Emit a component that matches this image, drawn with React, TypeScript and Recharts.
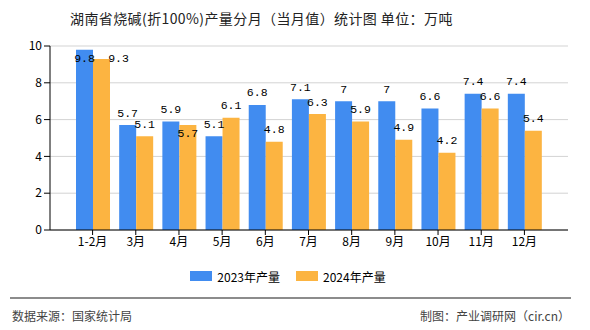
import { BarChart, Bar, XAxis, YAxis, CartesianGrid, Legend, LabelList } from "recharts";

const months = ["1-2月", "3月", "4月", "5月", "6月", "7月", "8月", "9月", "10月", "11月", "12月"];
const output2023 = [9.8, 5.7, 5.9, 5.1, 6.8, 7.1, 7, 7, 6.6, 7.4, 7.4];
const output2024 = [9.3, 5.1, 5.7, 6.1, 4.8, 6.3, 5.9, 4.9, 4.2, 6.6, 5.4];
const yTicks = [0, 2, 4, 6, 8, 10];

const BLUE = "#418CF0";
const ORANGE = "#FCB441";
const FONT = "'Noto Sans CJK SC', 'Noto Sans', sans-serif";
const PLOT_TOP = 46;

const data = months.map((m, i) => ({ month: m, y2023: output2023[i], y2024: output2024[i] }));

// value label above bar; moved when it would leave the plot or hit the neighbour's label
function makeLabel(isSecond: boolean) {
  return (props: any) => {
    const { x, y, width, height, value, index } = props;
    let cy = y - 12;
    let cx = x + width / 2;
    if (cy < PLOT_TOP + 12) {
      cy = PLOT_TOP + 12;
      if (isSecond) cx += width;
    } else if (isSecond && value > 0) {
      const perUnit = height / value;
      const otherY = y - (output2023[index] - value) * perUnit - 12;
      if (Math.abs(otherY - cy) < 10) cy = y + 8;
    }
    return (
      <text x={cx} y={cy} textAnchor="middle" dominantBaseline="central" fontSize={11.5} fontFamily="'Liberation Mono', monospace" fill="#000">
        {value}
      </text>
    );
  };
}

function gridX({ xAxis, offset }: any) {
  try {
    const s = xAxis.scale;
    const bw = s.bandwidth ? s.bandwidth() : 0;
    return [...months.map((m) => s(m) + bw / 2), offset.left + offset.width];
  } catch {
    return [];
  }
}

function LegendContent() {
  const items = [
    { name: "2023年产量", color: BLUE },
    { name: "2024年产量", color: ORANGE },
  ];
  return (
    <div style={{ display: "flex", justifyContent: "center", alignItems: "center", height: 18, gap: 16, paddingLeft: 8 }}>
      {items.map((it) => (
        <div key={it.name} style={{ display: "flex", alignItems: "center" }}>
          <span style={{ display: "inline-block", width: 22, height: 10, background: it.color, marginRight: 5 }} />
          <span style={{ fontSize: 12, color: "#000", fontFamily: FONT }}>{it.name}</span>
        </div>
      ))}
    </div>
  );
}

export default function App() {
  return (
    <div style={{ position: "absolute", left: 0, top: 0, width: 590, height: 330, background: "#fff", fontFamily: FONT }}>
      <div style={{ position: "absolute", left: 70, top: 8, fontSize: 14, letterSpacing: 0.4, color: "#222", whiteSpace: "nowrap" }}>
        湖南省烧碱(折100%)产量分月（当月值）统计图 单位：万吨
      </div>
      <BarChart width={590} height={330} data={data} margin={{ top: PLOT_TOP, right: 22, bottom: 45, left: 0 }} barGap={0} barSize={17}>
        <CartesianGrid stroke="#d3d3d3" verticalCoordinatesGenerator={gridX} />
        <XAxis
          dataKey="month"
          height={37}
          padding={{ left: 21, right: 22 }}
          axisLine={{ stroke: "#000" }}
          tickLine={{ stroke: "#000" }}
          tickSize={5}
          tick={{ fontSize: 12, fill: "#000" }}
          interval={0}
        />
        <YAxis
          width={50}
          domain={[0, 10]}
          ticks={yTicks}
          axisLine={{ stroke: "#000" }}
          tickLine={{ stroke: "#000" }}
          tickSize={6}
          tick={{ fontSize: 12, fill: "#000" }}
        />
        <Legend verticalAlign="bottom" content={<LegendContent />} />
        <Bar dataKey="y2023" name="2023年产量" fill={BLUE} isAnimationActive={false}>
          <LabelList dataKey="y2023" content={makeLabel(false)} />
        </Bar>
        <Bar dataKey="y2024" name="2024年产量" fill={ORANGE} isAnimationActive={false}>
          <LabelList dataKey="y2024" content={makeLabel(true)} />
        </Bar>
      </BarChart>
      <div style={{ position: "absolute", left: 10, top: 297, width: 561, height: 0, borderTop: "2px solid #8c8c8c" }} />
      <div style={{ position: "absolute", left: 12, top: 307, fontSize: 12, color: "#444" }}>数据来源：国家统计局</div>
      <div style={{ position: "absolute", right: 20, top: 307, fontSize: 12, color: "#444" }}>制图：产业调研网（cir.cn）</div>
    </div>
  );
}
